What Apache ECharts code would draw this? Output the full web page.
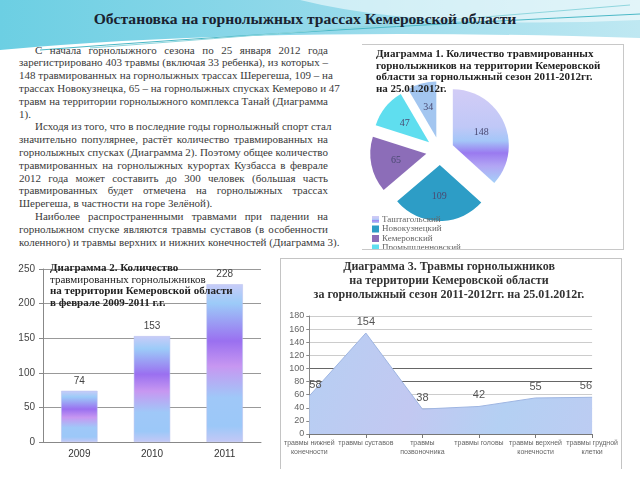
<!DOCTYPE html>
<html><head><meta charset="utf-8">
<script src="https://cdn.jsdelivr.net/npm/echarts@6/dist/echarts.min.js"></script>
<style>
html,body{margin:0;padding:0;}
body{width:640px;height:480px;position:relative;overflow:hidden;background:#fff;font-family:"Liberation Serif",serif;}
.abs{position:absolute;}
#title{left:0;width:610px;top:10px;text-align:center;font:bold 15.6px "Liberation Serif",serif;color:#1a2230;}
#para{left:19px;width:309px;top:43.6px;font:11px "Liberation Serif",serif;color:#3a3a3a;line-height:12.8px;}
#para div{text-align:justify;text-align-last:justify;white-space:nowrap;}
#para div.last{text-align-last:left;}
#para div.ind{padding-left:16px;}
.frame{background:#fff;}
.ttl{font:bold 11px "Liberation Serif",serif;color:#222;line-height:11.6px;white-space:nowrap;}
</style></head>
<body>
<svg class="abs" style="left:0;top:0" width="640" height="60">
<defs>
<linearGradient id="bg" x1="0" y1="0" x2="1" y2="0">
<stop offset="0" stop-color="#6ccfe3"/><stop offset="0.5" stop-color="#93d9ea"/><stop offset="1" stop-color="#bfe8f2"/>
</linearGradient>
</defs>
<rect x="0" y="0" width="640" height="60" fill="url(#bg)"/>
<path d="M0,50 Q260,26 640,38 L640,60 L0,60 Z" fill="#fff"/>
<path d="M300,0 Q420,30 640,20 L640,0 Z" fill="#fff" opacity="0.55"/>
<path d="M40,50 Q300,30 640,14" fill="none" stroke="#4bb8c6" stroke-width="1"/>
<path d="M90,48 Q330,30 630,5" fill="none" stroke="#8fd6de" stroke-width="1"/>
</svg>
<div id="title" class="abs">Обстановка на горнолыжных трассах Кемеровской области</div>
<div id="para" class="abs">
<div class="ind">С начала горнолыжного сезона по 25 января 2012 года</div>
<div>зарегистрировано 403 травмы (включая 33 ребенка), из которых –</div>
<div>148 травмированных на горнолыжных трассах Шерегеша, 109 – на</div>
<div>трассах Новокузнецка, 65 – на горнолыжных спусках Кемерово и 47</div>
<div>травм на территории горнолыжного комплекса Танай (Диаграмма</div>
<div class="last">1).</div>
<div class="ind">Исходя из того, что в последние годы горнолыжный спорт стал</div>
<div>значительно популярнее, растёт количество травмированных на</div>
<div>горнолыжных спусках (Диаграмма 2). Поэтому общее количество</div>
<div>травмированных на горнолыжных курортах Кузбасса в феврале</div>
<div>2012 года может составить до 300 человек (большая часть</div>
<div>травмированных будет отмечена на горнолыжных трассах</div>
<div class="last">Шерегеша, в частности на горе Зелёной).</div>
<div class="ind">Наиболее распространенными травмами при падении на</div>
<div>горнолыжном спуске являются травмы суставов (в особенности</div>
<div>коленного) и травмы верхних и нижних конечностей (Диаграмма 3).</div>
</div>

<div id="bar" class="abs" style="left:0;top:255px;width:280px;height:225px;"></div>
<div class="abs ttl" style="left:50px;top:262px;">Диаграмма 2. Количество<br><span style="font-weight:normal">травмированных горнолыжников</span><br>на территории Кемеровской области<br>в феврале 2009-2011 г.г.</div>

<div class="abs frame" style="left:280px;top:258px;width:340px;height:210px;border:1px solid #c4c4c4;border-bottom:none;overflow:hidden;">
<div id="area" style="width:340px;height:210px;"></div>
<div class="abs" style="left:0;top:0px;width:336px;text-align:center;font:bold 12px 'Liberation Serif',serif;color:#333;line-height:14px;">Диаграмма 3. Травмы горнолыжников<br>на территории Кемеровской области<br>за горнолыжный сезон 2011-2012гг. на 25.01.2012г.</div>
</div>

<div class="abs frame" style="left:362px;top:44px;width:261px;height:204px;border:1px solid #c8c8c8;border-left:none;overflow:hidden;">
<div id="pie" style="width:261px;height:260px;"></div>
<div class="abs ttl" style="left:14px;top:3px;">Диаграмма 1. Количество травмированных<br>горнолыжников на территории Кемеровской<br>области за горнолыжный сезон 2011-2012гг.<br>на 25.01.2012г.</div>
</div>

<script>
// ---- data ----
const barYears = ['2009', '2010', '2011'];
const barValues = [74, 153, 228];

const areaCategories = ['травмы нижней\nконечности', 'травмы суставов', 'травмы\nпозвоночника', 'травмы головы', 'травмы верхней\nконечности', 'травмы грудной\nклетки'];
const areaValues = [58, 154, 38, 42, 55, 56];

const pieNames = ['Таштагольский', 'Новокузнецкий', 'Кемеровский', 'Промышленновский', 'Прочие'];
const pieValues = [148, 109, 65, 47, 34];

// ---- styles ----
const sans = 'Liberation Sans';
const grad = (stops) => new echarts.graphic.LinearGradient(0, 0, 0, 1, stops.map((c) => ({offset: c[0], color: c[1]})));

const barGrad = grad([[0, '#c8ccf8'], [0.12, '#9ccbf8'], [0.36, '#9a70f0'], [0.52, '#c797f1'], [0.72, '#9fc8f8'], [0.9, '#9cc8f8'], [1, '#c4c8f6']]);

const barChart = echarts.init(document.getElementById('bar'));
barChart.setOption({
  animation: false,
  grid: {left: 43, right: 19, top: 14, bottom: 38},
  xAxis: {type: 'category', data: barYears,
    axisLine: {lineStyle: {color: '#888'}}, axisTick: {lineStyle: {color: '#888'}},
    axisLabel: {color: '#333', fontFamily: sans, fontSize: 10, margin: 7}},
  yAxis: {type: 'value', min: 0, max: 250, interval: 50,
    axisLine: {show: true, lineStyle: {color: '#888'}}, axisTick: {show: true, length: 4, lineStyle: {color: '#888'}},
    axisLabel: {color: '#444', fontFamily: sans, fontSize: 10, margin: 8},
    splitLine: {lineStyle: {color: '#999'}}},
  series: [{type: 'bar', data: barValues, barWidth: '50%',
    itemStyle: {color: barGrad, borderColor: '#b8c0ee', borderWidth: 0.5},
    label: {show: true, position: 'top', distance: 5, color: '#444', fontFamily: sans, fontSize: 10}}]
});

const areaChart = echarts.init(document.getElementById('area'));
const splitColors = ['#ccc', '#ccc', '#ccc', '#ccc', '#666', '#666', '#ccc', '#ccc', '#ccc', '#ccc'];
areaChart.setOption({
  animation: false,
  grid: {left: 22, right: 2, top: 57, bottom: 35},
  xAxis: {type: 'category', data: areaCategories, boundaryGap: false,
    axisLine: {lineStyle: {color: '#777'}}, axisTick: {length: 4, lineStyle: {color: '#777'}},
    axisLabel: {interval: 0, color: '#666', fontFamily: sans, fontSize: 7, lineHeight: 9, margin: 5}},
  yAxis: {type: 'value', min: 0, max: 180, interval: 20,
    axisLine: {show: true, lineStyle: {color: '#888'}}, axisTick: {show: true, length: 3, lineStyle: {color: '#888'}},
    axisLabel: {color: '#666', fontFamily: sans, fontSize: 9, margin: 5},
    splitLine: {lineStyle: {color: splitColors}}},
  series: [{type: 'line', symbol: 'circle', symbolSize: 1, showSymbol: true,
    itemStyle: {color: 'rgba(0,0,0,0)'},
    data: areaValues.map((v, i) => ({value: v,
      label: {show: true, align: i === 0 ? 'left' : (i === areaValues.length - 1 ? 'right' : 'center')}})),
    lineStyle: {color: '#9fb6e2', width: 1},
    areaStyle: {opacity: 1, color: new echarts.graphic.LinearGradient(0, 0, 1, 1, [
      {offset: 0, color: '#b6cff3'}, {offset: 0.4, color: '#c2c8f1'}, {offset: 0.7, color: '#b4d0f3'}, {offset: 1, color: '#bcccf2'}])},
    label: {show: true, position: 'top', distance: 5, color: '#555', fontFamily: sans, fontSize: 11}}]
});

const pieColors = [
  grad([[0, '#d2ccf6'], [0.4, '#c0c8f7'], [0.55, '#a4c6f8'], [0.68, '#9a7af0'], [0.82, '#b2a6f4'], [1, '#a4d0f8']]),
  '#2d9dc6', '#8c6db8', '#5fdeef', '#a3c6f0'];
const pieChart = echarts.init(document.getElementById('pie'));
pieChart.setOption({
  animation: false,
  legend: {orient: 'vertical', left: 5, top: 165, itemWidth: 7, itemHeight: 7, itemGap: 0.5,
    icon: 'rect', textStyle: {color: '#666', fontFamily: 'Liberation Serif', fontSize: 9, lineHeight: 9, padding: [0, 0, 0, -2]}},
  series: [{type: 'pie', center: [78, 106], radius: 56, startAngle: 90, clockwise: true,
    selectedMode: 'multiple', selectedOffset: 14,
    data: pieValues.map((v, i) => ({value: v, name: pieNames[i], selected: true, itemStyle: {color: pieColors[i]}})),
    label: {show: true, position: 'inside', formatter: '{c}', color: '#4a4a72', fontFamily: 'Liberation Serif', fontSize: 10},
    labelLine: {show: false}, emphasis: {disabled: true}}]
});
</script>
</body></html>
